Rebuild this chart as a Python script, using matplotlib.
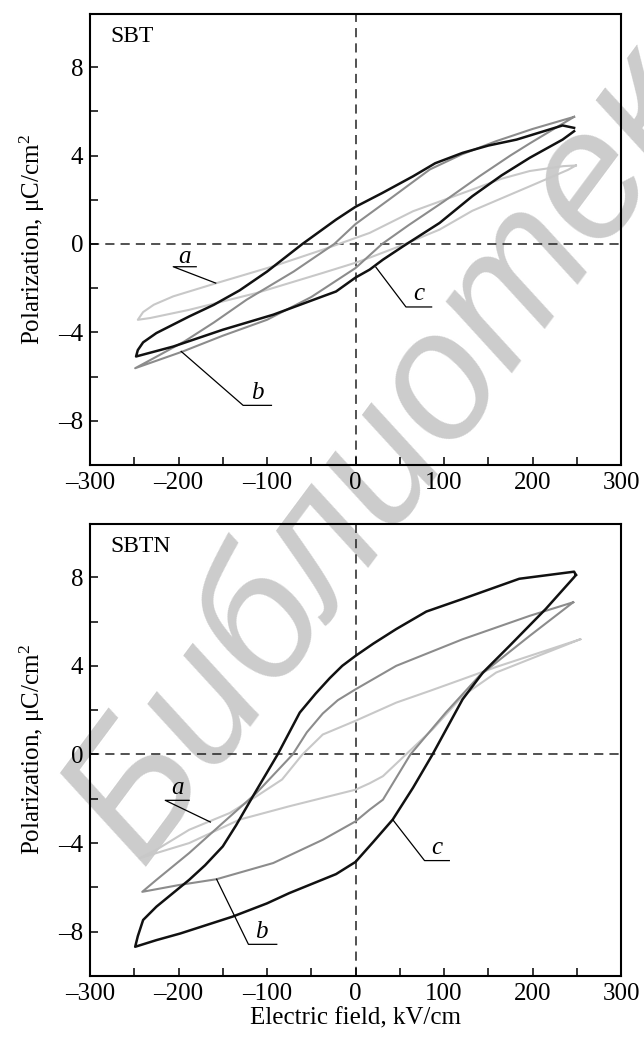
import matplotlib
matplotlib.use("Agg")
import matplotlib.pyplot as plt

plt.rcParams['font.family'] = ['Liberation Serif', 'DejaVu Serif']
plt.rcParams['mathtext.fontset'] = 'custom'
plt.rcParams['mathtext.rm'] = 'Liberation Serif'
plt.rcParams['mathtext.it'] = 'Liberation Serif:italic'

# ---- SBT (top panel) ----
sbt_a_up_E = [249, 235, 197, 165, 132, 65, 16, -37, -93, -157, -206, -228, -240, -246]
sbt_a_up_P = [3.55, 3.52, 3.3, 2.95, 2.46, 1.48, 0.5, -0.26, -1.01, -1.77, -2.37, -2.75, -3.08, -3.43]
sbt_a_lo_E = [-246, -232, -188, -112, -37, 0, 16, 50, 95, 132, 197, 240, 249]
sbt_a_lo_P = [-3.43, -3.35, -2.98, -2.22, -1.31, -0.85, -0.62, -0.1, 0.65, 1.5, 2.61, 3.35, 3.55]

sbt_b_up_E = [247, 200, 159, 120, 84, 39, 0, -24, -70, -123, -160, -193, -225, -249]
sbt_b_up_P = [5.75, 5.2, 4.65, 4.05, 3.37, 2.04, 0.9, 0, -1.25, -2.52, -3.55, -4.4, -5.1, -5.62]
sbt_b_lo_E = [-249, -195, -150, -100, -50, 0, 30, 60, 99, 140, 175, 197, 247]
sbt_b_lo_P = [-5.62, -4.86, -4.15, -3.43, -2.4, -1.09, 0, 0.85, 1.9, 3.06, 4.0, 4.55, 5.75]

sbt_c_up_E = [247, 234, 182, 150, 121, 90, 65, 30, 0, -22, -60, -100, -131, -160, -188, -225, -240, -246, -248]
sbt_c_up_P = [5.25, 5.36, 4.72, 4.45, 4.12, 3.65, 3.06, 2.3, 1.68, 1.1, 0, -1.25, -2.1, -2.75, -3.28, -4.03, -4.45, -4.8, -5.09]
sbt_c_lo_E = [-248, -206, -150, -93, -37, -22, 0, 16, 31, 54, 95, 132, 165, 197, 234, 247]
sbt_c_lo_P = [-5.09, -4.64, -3.88, -3.2, -2.37, -2.15, -1.52, -1.16, -0.71, -0.1, 0.95, 2.16, 3.1, 3.9, 4.72, 5.1]

# ---- SBTN (bottom panel) ----
sbtn_a_up_E = [254, 197, 159, 121, 84, 46, 0, -37, -60, -83, -112, -142, -188, -225, -244]
sbtn_a_up_P = [5.2, 4.45, 3.95, 3.4, 2.87, 2.34, 1.52, 0.9, 0, -1.13, -1.89, -2.64, -3.4, -4.3, -4.68]
sbtn_a_lo_E = [-244, -188, -131, -75, 0, 16, 31, 57, 87, 121, 159, 200, 254]
sbtn_a_lo_P = [-4.68, -4.0, -2.94, -2.34, -1.59, -1.3, -0.98, 0, 1.13, 2.64, 3.7, 4.35, 5.2]

sbtn_b_up_E = [246, 197, 121, 46, 0, -20, -37, -55, -71, -112, -150, -188, -225, -241]
sbtn_b_up_P = [6.87, 6.26, 5.2, 4.0, 2.94, 2.45, 1.85, 1.0, 0, -1.74, -3.09, -4.45, -5.66, -6.2]
sbtn_b_lo_E = [-241, -199, -157, -93, -37, 0, 16, 31, 62, 102, 140, 197, 246]
sbtn_b_lo_P = [-6.2, -5.89, -5.63, -4.9, -3.85, -3.02, -2.49, -2.04, 0, 1.89, 3.55, 5.36, 6.87]

sbtn_c_up_E = [249, 247, 185, 121, 80, 46, 20, 0, -15, -29, -45, -63, -88, -116, -135, -150, -170, -188, -225, -240, -246, -249]
sbtn_c_up_P = [8.1, 8.25, 7.93, 7.02, 6.45, 5.66, 5.0, 4.45, 4.0, 3.45, 2.75, 1.89, 0, -1.89, -3.2, -4.15, -5.0, -5.66, -6.87, -7.47, -8.2, -8.68]
sbtn_c_lo_E = [-249, -225, -198, -139, -100, -75, -22, 0, 20, 42, 65, 87, 121, 144, 174, 215, 247, 249]
sbtn_c_lo_P = [-8.68, -8.38, -8.08, -7.32, -6.72, -6.26, -5.4, -4.85, -3.95, -2.94, -1.5, 0, 2.49, 3.7, 4.9, 6.57, 8.0, 8.1]

xticks = [-300, -200, -100, 0, 100, 200, 300]
yticks = [-8, -4, 0, 4, 8]

col_a, col_b, col_c = '#c8c8c8', '#8c8c8c', '#111111'
fs = 18

fig = plt.figure(figsize=(6.44, 10.46), dpi=100)
ax1 = fig.add_axes([0.1398, 0.5554, 0.8245, 0.4312])
ax2 = fig.add_axes([0.1398, 0.0669, 0.8245, 0.4321])

panels = [
    (ax1, 'SBT',
     [(sbt_a_up_E, sbt_a_up_P, sbt_a_lo_E, sbt_a_lo_P, col_a, 1.5),
      (sbt_b_up_E, sbt_b_up_P, sbt_b_lo_E, sbt_b_lo_P, col_b, 1.5),
      (sbt_c_up_E, sbt_c_up_P, sbt_c_lo_E, sbt_c_lo_P, col_c, 1.8)],
     [('a', (-193, -0.85), (-206, -180), -1.03, (-158, -1.77)),
      ('b', (-111, -7.0), (-127, -95), -7.3, (-197, -4.86)),
      ('c', (71, -2.55), (57, 86), -2.85, (23, -1.05))]),
    (ax2, 'SBTN',
     [(sbtn_a_up_E, sbtn_a_up_P, sbtn_a_lo_E, sbtn_a_lo_P, col_a, 1.5),
      (sbtn_b_up_E, sbtn_b_up_P, sbtn_b_lo_E, sbtn_b_lo_P, col_b, 1.5),
      (sbtn_c_up_E, sbtn_c_up_P, sbtn_c_lo_E, sbtn_c_lo_P, col_c, 1.8)],
     [('a', (-201, -1.8), (-215, -188), -2.07, (-164, -3.05)),
      ('b', (-106, -8.3), (-121, -89), -8.57, (-157, -5.63)),
      ('c', (92, -4.5), (78, 106), -4.79, (42, -2.94))]),
]

for ax, name, curves, labels in panels:
    ax.set_facecolor('none')
    ax.axhline(0, color='#222222', lw=1.1, ls=(0, (6, 4)), zorder=1)
    ax.axvline(0, color='#222222', lw=1.1, ls=(0, (6, 4)), zorder=1)
    for ue, up, le, lp, col, lw in curves:
        ax.plot(ue + le, up + lp, color=col, lw=lw, solid_joinstyle='round', zorder=2)
    for lab, tpos, (u0, u1), uy, (lx, ly) in labels:
        ax.plot([lx, u0, u1], [ly, uy, uy], color='black', lw=0.9, zorder=3)
        ax.text(tpos[0], tpos[1], lab, fontsize=fs, style='italic', ha='center', va='baseline')
    ax.text(-277, 9.4, name, fontsize=17, ha='left', va='center')
    ax.set_xlim(-300, 300)
    ax.set_ylim(-10, 10.4)
    ax.set_xticks(xticks)
    ax.set_xticks([-250, -150, -50, 50, 150, 250], minor=True)
    ax.set_yticks(yticks)
    ax.set_yticks([-6, -2, 2, 6], minor=True)
    ax.set_xticklabels([f'{t}'.replace('-', '\u2013') for t in xticks])
    ax.set_yticklabels([f'{t}'.replace('-', '\u2013') for t in yticks])
    ax.tick_params(which='both', direction='in', length=6, width=1.1, labelsize=fs,
                   top=False, right=False, pad=5)
    for s in ax.spines.values():
        s.set_linewidth(1.5)
    ax.set_ylabel('Polarization, \u03bcC/cm$^2$', fontsize=fs, labelpad=8)

ax2.set_xlabel('Electric field, kV/cm', fontsize=fs, labelpad=2)

# library watermark across the figure
fig.text(0.649, 0.603, 'Библиотека', fontsize=130, color='#cccccc', rotation=53.4,
         family='Liberation Sans', style='italic', ha='center', va='center', zorder=-1)

fig.savefig('out.png', dpi=100)
